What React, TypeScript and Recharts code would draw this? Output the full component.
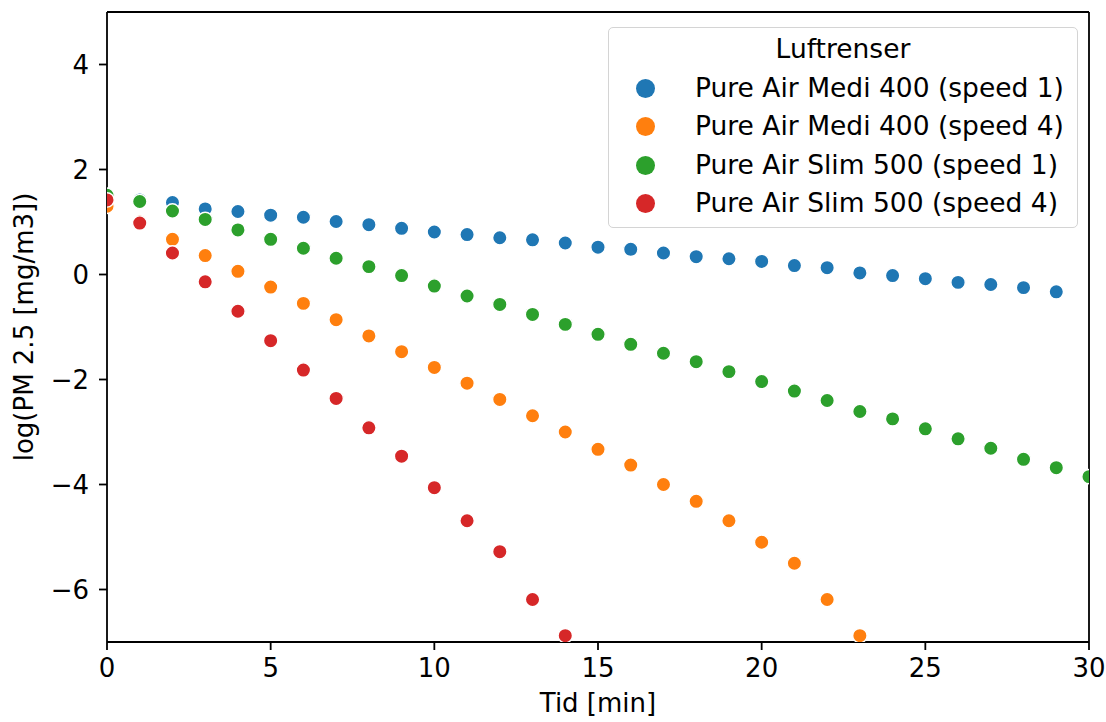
import React from 'react';
import {
  ScatterChart,
  Scatter,
  XAxis,
  YAxis,
  ReferenceLine,
  Legend,
} from 'recharts';

// time in minutes
const times = [
  0, 1, 2, 3, 4, 5, 6, 7, 8, 9, 10, 11, 12, 13, 14, 15,
  16, 17, 18, 19, 20, 21, 22, 23, 24, 25, 26, 27, 28, 29, 30,
];

const medi400Speed1 = [
  1.48, 1.42, 1.37, 1.25, 1.2, 1.13, 1.09, 1.01, 0.95, 0.88, 0.81, 0.76, 0.7, 0.66, 0.6,
  0.52, 0.48, 0.41, 0.34, 0.3, 0.25, 0.17, 0.13, 0.03, -0.02, -0.08, -0.15, -0.19, -0.25, -0.33,
];
const medi400Speed4 = [
  1.3, 1.0, 0.67, 0.36, 0.06, -0.24, -0.55, -0.86, -1.17, -1.47, -1.77, -2.07,
  -2.38, -2.69, -3.0, -3.33, -3.63, -4.0, -4.32, -4.69, -5.1, -5.5, -6.19, -6.88,
];
const slim500Speed1 = [
  1.51, 1.39, 1.21, 1.05, 0.85, 0.67, 0.5, 0.31, 0.15, -0.02, -0.22, -0.41, -0.57, -0.76,
  -0.95, -1.14, -1.33, -1.5, -1.66, -1.85, -2.04, -2.22, -2.4, -2.61, -2.75, -2.94,
  -3.13, -3.31, -3.52, -3.68, -3.85,
];
const slim500Speed4 = [
  1.42, 0.98, 0.41, -0.14, -0.7, -1.26, -1.82, -2.36, -2.92, -3.46, -4.06, -4.69,
  -5.28, -6.19, -6.88,
];

const seriesNames = [
  'Pure Air Medi 400 (speed 1)',
  'Pure Air Medi 400 (speed 4)',
  'Pure Air Slim 500 (speed 1)',
  'Pure Air Slim 500 (speed 4)',
];
const seriesValues = [medi400Speed1, medi400Speed4, slim500Speed1, slim500Speed4];
const colors = ['#1f77b4', '#ff7f0e', '#2ca02c', '#d62728'];

const xTicks = [0, 5, 10, 15, 20, 25, 30];
const yTicks = [-6, -4, -2, 0, 2, 4];

const FONT = '"DejaVu Sans", Verdana, sans-serif';
const FS = 26;

const series = seriesValues.map((vals) => vals.map((y, i) => ({ x: times[i], y })));

const fmt = (v: number) => String(v).replace('-', '\u2212');

const Dot = (color: string) => (props: any) => (
  <circle cx={props.cx} cy={props.cy} r={7.2} fill={color} stroke="#ffffff" strokeWidth={1.4} />
);

const XLabel = () => (
  <text x={598} y={712} textAnchor="middle" fontFamily={FONT} fontSize={FS} fill="#000">
    Tid [min]
  </text>
);

const YLabel = () => (
  <text
    x={24}
    y={327}
    transform="rotate(-90 24 327)"
    textAnchor="middle"
    dominantBaseline="central"
    fontFamily={FONT}
    fontSize={FS}
    fill="#000"
  >
    log(PM 2.5 [mg/m3])
  </text>
);

const LegendBox = () => (
  <div
    style={{
      boxSizing: 'border-box',
      width: 470,
      height: 201,
      border: '1.5px solid #d4d4d4',
      borderRadius: 5,
      background: 'rgba(255,255,255,0.8)',
      fontFamily: FONT,
      fontSize: 26.5,
      color: '#000',
      paddingTop: 2,
      position: 'relative',
    }}
  >
    <div style={{ height: 38.6, lineHeight: '38.6px', textAlign: 'center' }}>Luftrenser</div>
    {seriesNames.map((name, i) => (
      <div key={name} style={{ height: 38.6, lineHeight: '38.6px', position: 'relative' }}>
        <span
          style={{
            position: 'absolute',
            left: 27,
            top: 10,
            width: 19,
            height: 19,
            borderRadius: '50%',
            background: colors[i],
          }}
        />
        <span style={{ position: 'absolute', left: 86, whiteSpace: 'nowrap' }}>{name}</span>
      </div>
    ))}
  </div>
);

export default function App() {
  return (
    <div style={{ position: 'absolute', left: 0, top: 0, width: 1106, height: 722, background: '#fff' }}>
      <ScatterChart
        width={1106}
        height={722}
        margin={{ top: 12, right: 17, left: 0, bottom: 0 }}
      >
        <XAxis
          type="number"
          dataKey="x"
          domain={[0, 30]}
          ticks={xTicks}
          allowDataOverflow
          height={80}
          stroke="#000"
          strokeWidth={1.8}
          tickSize={8}
          tickMargin={9}
          tick={{ fill: '#000', fontSize: FS, fontFamily: FONT }}
          label={<XLabel />}
        />
        <YAxis
          type="number"
          dataKey="y"
          domain={[-7, 5]}
          ticks={yTicks}
          allowDataOverflow
          width={107}
          stroke="#000"
          strokeWidth={1.8}
          tickSize={8}
          tickMargin={10}
          tickFormatter={fmt}
          tick={{ fill: '#000', fontSize: FS, fontFamily: FONT }}
          label={<YLabel />}
        />
        {series.map((pts, i) => (
          <Scatter
            key={seriesNames[i]}
            name={seriesNames[i]}
            data={pts}
            fill={colors[i]}
            shape={Dot(colors[i])}
            isAnimationActive={false}
          />
        ))}
        <ReferenceLine y={5} stroke="#000" strokeWidth={1.8} />
        <ReferenceLine x={30} stroke="#000" strokeWidth={1.8} />
        <Legend
          layout="horizontal"
          verticalAlign="middle"
          align="center"
          content={<LegendBox />}
          wrapperStyle={{ left: 608, top: 27, width: 470, height: 201 }}
        />
      </ScatterChart>
    </div>
  );
}
